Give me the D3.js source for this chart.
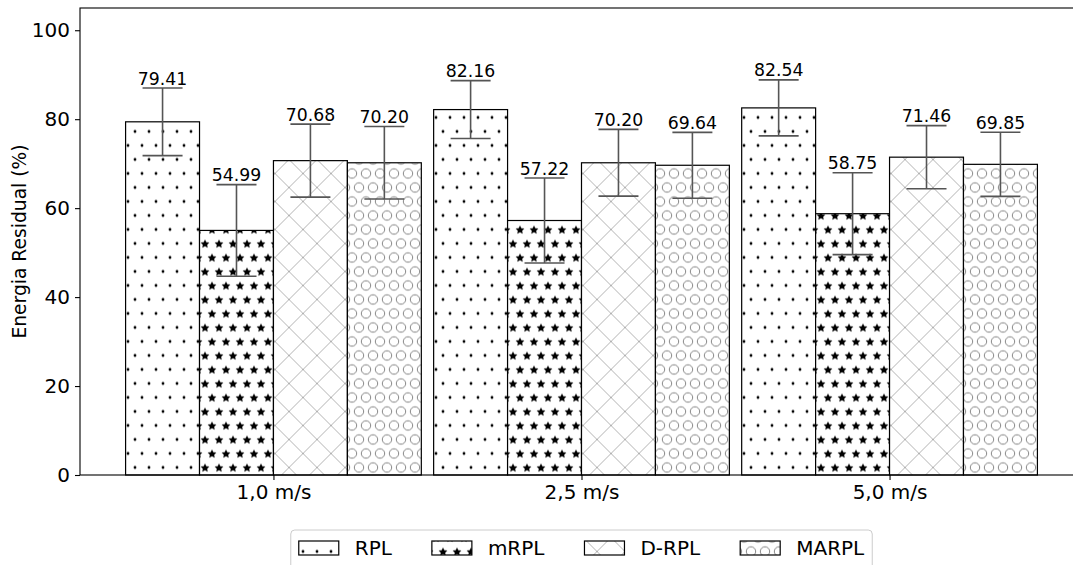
<!DOCTYPE html>
<html>
<head>
<meta charset="utf-8">
<script src="https://cdn.jsdelivr.net/npm/d3@7"></script>
<style>
  body { margin: 0; background: #fff; }
  text { font-family: "DejaVu Sans", sans-serif; fill: #000; }
</style>
</head>
<body>
<svg id="chart" width="1073" height="565"></svg>
<script>
// data
var categories = ["1,0 m/s", "2,5 m/s", "5,0 m/s"];
var protocols = ["RPL", "mRPL", "D-RPL", "MARPL"];
var yTicks = [0, 20, 40, 60, 80, 100];

var rplValues   = [79.41, 82.16, 82.54];
var mrplValues  = [54.99, 57.22, 58.75];
var drplValues  = [70.68, 70.20, 71.46];
var marplValues = [70.20, 69.64, 69.85];

var rplErr   = [7.6, 6.5, 6.3];
var mrplErr  = [10.3, 9.55, 9.2];
var drplErr  = [8.2, 7.5, 7.1];
var marplErr = [8.15, 7.4, 7.2];

var series = [
    {name: "RPL",   values: rplValues,   err: rplErr,   pattern: "hDots"},
    {name: "mRPL",  values: mrplValues,  err: mrplErr,  pattern: "hStars"},
    {name: "D-RPL", values: drplValues,  err: drplErr,  pattern: "hCross"},
    {name: "MARPL", values: marplValues, err: marplErr, pattern: "hCircles"}
];

var barWidth = 0.24,
    capHalf = 20,
    errColor = "#555";

var svg = d3.select("#chart");

svg.append("rect")
    .attr("width", 1073).attr("height", 565)
    .attr("fill", "#fff");

var x = d3.scaleLinear()
    .domain([-0.628, 2.628])
    .range([80, 1083]);

var y = d3.scaleLinear()
    .domain([0, 105])
    .range([475, 8]);

// hatch patterns, anchored in page space like matplotlib hatches
var defs = svg.append("defs");

var makeShapePattern = function(id, drawShape) {
    var p = defs.append("pattern")
        .attr("id", id)
        .attr("patternUnits", "userSpaceOnUse")
        .attr("x", 2).attr("y", 12.5)
        .attr("width", 14).attr("height", 28);
    p.append("rect").attr("width", 14).attr("height", 28).attr("fill", "#fff");
    [[7, 7], [0, 21], [14, 21]].forEach(function(pt) { drawShape(p, pt[0], pt[1]); });
}

makeShapePattern("hDots", function(p, cx, cy) {
    p.append("circle").attr("cx", cx).attr("cy", cy).attr("r", 1.4).attr("fill", "#000");
});

// five point star, inner radius half of the outer one
var starPoints = d3.range(10).map(function(k) {
    var r = k % 2 ? 2.3 : 4.6,
        a = k * Math.PI / 5;
    return [r * Math.sin(a), -r * Math.cos(a)];
});
var starPath = d3.line()(starPoints) + "Z";

makeShapePattern("hStars", function(p, cx, cy) {
    p.append("path").attr("d", starPath)
        .attr("transform", "translate(" + cx + "," + (cy + 0.5) + ")")
        .attr("fill", "#000");
});

makeShapePattern("hCircles", function(p, cx, cy) {
    p.append("circle").attr("cx", cx).attr("cy", cy).attr("r", 4.7)
        .attr("fill", "none").attr("stroke", "#777").attr("stroke-width", 0.9);
});

var cross = defs.append("pattern")
    .attr("id", "hCross")
    .attr("patternUnits", "userSpaceOnUse")
    .attr("x", -5).attr("y", 5.5)
    .attr("width", 28).attr("height", 28);
cross.append("rect").attr("width", 28).attr("height", 28).attr("fill", "#fff");
cross.append("path")
    .attr("d", "M-2,-2L30,30M-2,30L30,-2")
    .attr("stroke", "#aaa").attr("stroke-width", 0.9).attr("fill", "none");

// bars
var offsets = [-1.5, -0.5, 0.5, 1.5];

series.forEach(function(s, si) {
    var g = svg.append("g").attr("class", "series");
    g.selectAll("rect")
        .data(s.values)
        .enter().append("rect")
        .attr("x", function(d, i) { return x(i + (offsets[si] - 0.5) * barWidth); })
        .attr("width", x(barWidth) - x(0))
        .attr("y", function(d) { return y(d); })
        .attr("height", function(d) { return y(0) - y(d); })
        .attr("fill", "url(#" + s.pattern + ")")
        .attr("stroke", "#000")
        .attr("stroke-width", 1.2);
});

// error bars and value labels
series.forEach(function(s, si) {
    var g = svg.append("g").attr("class", "errors");
    s.values.forEach(function(v, i) {
        var cx = x(i + offsets[si] * barWidth),
            top = y(v + s.err[i]),
            bot = y(v - s.err[i]);
        g.append("line").attr("x1", cx).attr("x2", cx).attr("y1", top).attr("y2", bot)
            .attr("stroke", errColor).attr("stroke-width", 1.6);
        [top, bot].forEach(function(cy) {
            g.append("line").attr("x1", cx - capHalf).attr("x2", cx + capHalf)
                .attr("y1", cy).attr("y2", cy)
                .attr("stroke", errColor).attr("stroke-width", 1.6);
        });
        g.append("text")
            .attr("x", cx).attr("y", top - 3.5)
            .attr("text-anchor", "middle")
            .style("font-size", "17.3px")
            .text(v.toFixed(2));
    });
});

// axes
var xAxis = d3.axisBottom(x)
    .tickValues([0, 1, 2])
    .tickFormat(function(d) { return categories[d]; })
    .tickSize(5).tickPadding(5);

var yAxis = d3.axisLeft(y)
    .tickValues(yTicks)
    .tickSize(5).tickPadding(5);

var gx = svg.append("g")
    .attr("transform", "translate(0," + y(0) + ")")
    .call(xAxis);
gx.select(".domain").remove();

var gy = svg.append("g")
    .attr("transform", "translate(" + x.range()[0] + ",0)")
    .call(yAxis);
gy.select(".domain").remove();

svg.selectAll(".tick text").style("font-size", "20px").style("font-family", "DejaVu Sans");
svg.selectAll(".tick line").attr("stroke", "#000").attr("stroke-width", 1.1);

// spines
svg.append("rect")
    .attr("x", x.range()[0]).attr("y", y.range()[1])
    .attr("width", x.range()[1] - x.range()[0])
    .attr("height", y.range()[0] - y.range()[1])
    .attr("fill", "none").attr("stroke", "#000").attr("stroke-width", 1.1);

svg.append("text")
    .attr("transform", "translate(26," + (y.range()[0] + y.range()[1]) / 2 + ") rotate(-90)")
    .attr("text-anchor", "middle")
    .style("font-size", "18.7px")
    .text("Energia Residual (%)");

// legend
var fs = 20, pad = 8, handleW = 40, handleH = 14, textPad = 16, colSpace = 40;
var legend = svg.append("g");
var frame = legend.append("rect");
var items = legend.selectAll(".item")
    .data(series)
    .enter().append("g").attr("class", "item");

items.append("text")
    .style("font-size", fs + "px")
    .text(function(d) { return d.name; });

var widths = [];
items.select("text").each(function() { widths.push(this.getComputedTextLength()); });

var total = 2 * pad + d3.sum(widths) + series.length * (handleW + textPad) + (series.length - 1) * colSpace;
var lx = (x.range()[0] + x.range()[1]) / 2 - total / 2,
    ly = 530;

frame.attr("x", lx).attr("y", ly)
    .attr("width", total).attr("height", 48)
    .attr("rx", 4)
    .attr("fill", "#fff").attr("fill-opacity", 0.8)
    .attr("stroke", "#ccc").attr("stroke-width", 1);

var cursor = lx + pad;
items.each(function(d, i) {
    var item = d3.select(this);
    item.insert("rect", "text")
        .attr("x", cursor).attr("y", ly + 11)
        .attr("width", handleW).attr("height", handleH)
        .attr("fill", "url(#" + d.pattern + ")")
        .attr("stroke", "#000").attr("stroke-width", 1.2);
    item.select("text")
        .attr("x", cursor + handleW + textPad)
        .attr("y", ly + 25);
    cursor += handleW + textPad + widths[i] + colSpace;
});
</script>
</body>
</html>
